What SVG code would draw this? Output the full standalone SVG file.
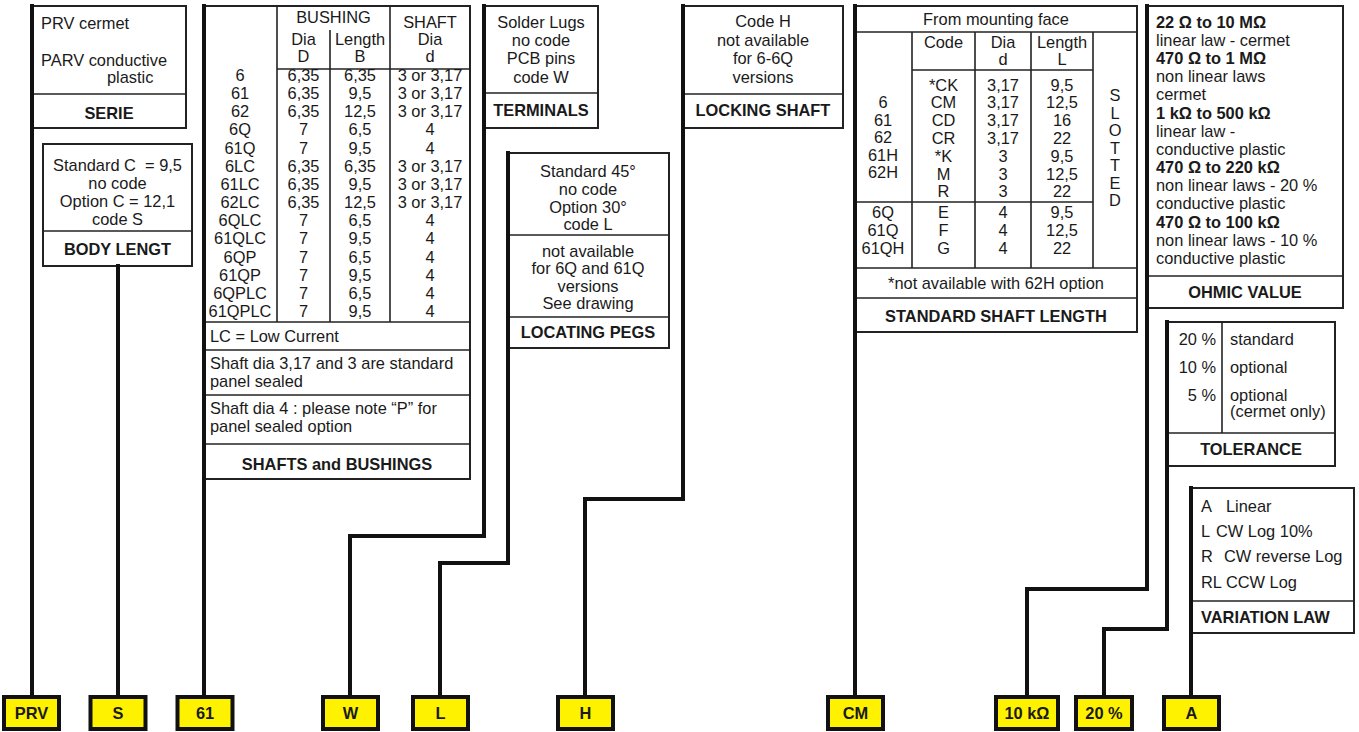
<svg xmlns="http://www.w3.org/2000/svg" width="1359" height="732" viewBox="0 0 1359 732">
<style>
text{font-family:"Liberation Sans",Arial,Helvetica,sans-serif;font-size:16.4px;fill:#1a1a1a}
.b{font-weight:bold}
.m{text-anchor:middle}
.e{text-anchor:end}
.box{fill:#fff;stroke:#222;stroke-width:2}
.ln{stroke:#222;stroke-width:1.6;fill:none}
.conn{fill:none;stroke:#111;stroke-width:4;stroke-linejoin:miter;stroke-linecap:square}
.tag{fill:#FFF200;stroke:#111;stroke-width:4}
</style>
<rect width="1359" height="732" fill="#fff"/>

<g id="serie">
<rect class="box" x="32" y="6" width="154" height="122"/>
<line class="ln" x1="32" y1="94" x2="186" y2="94"/>
<text x="41" y="29">PRV cermet</text>
<text x="41" y="66">PARV conductive</text>
<text x="107" y="83">plastic</text>
<text class="b m" x="109" y="119">SERIE</text>
</g>

<g id="body-length">
<rect class="box" x="43" y="144" width="149" height="122"/>
<line class="ln" x1="43" y1="231" x2="192" y2="231"/>
<text class="m" x="117.5" y="170.5" xml:space="preserve">Standard C  = 9,5</text>
<text class="m" x="117.5" y="188.5">no code</text>
<text class="m" x="117.5" y="206.5">Option C = 12,1</text>
<text class="m" x="117.5" y="224.5">code S</text>
<text class="b m" x="117.5" y="255">BODY LENGT</text>
</g>

<g id="shafts-bushings">
<rect class="box" x="204" y="6" width="266" height="473"/>
<line class="ln" x1="277" y1="6" x2="277" y2="322"/>
<line class="ln" x1="330" y1="30" x2="330" y2="322"/>
<line class="ln" x1="390" y1="6" x2="390" y2="322"/>
<line class="ln" x1="277" y1="69" x2="470" y2="69"/>
<line class="ln" x1="204" y1="322" x2="470" y2="322"/>
<line class="ln" x1="204" y1="350" x2="470" y2="350"/>
<line class="ln" x1="204" y1="395" x2="470" y2="395"/>
<line class="ln" x1="204" y1="444" x2="470" y2="444"/>
<text class="m" x="333.5" y="23">BUSHING</text>
<text class="m" x="430" y="28">SHAFT</text>
<text class="m" x="303.5" y="45">Dia</text>
<text class="m" x="360" y="45">Length</text>
<text class="m" x="430" y="45">Dia</text>
<text class="m" x="303.5" y="62">D</text>
<text class="m" x="360" y="62">B</text>
<text class="m" x="430" y="62">d</text>
<text class="m" x="240" y="81">6<tspan x="240" dy="18.15">61</tspan><tspan x="240" dy="18.15">62</tspan><tspan x="240" dy="18.15">6Q</tspan><tspan x="240" dy="18.15">61Q</tspan><tspan x="240" dy="18.15">6LC</tspan><tspan x="240" dy="18.15">61LC</tspan><tspan x="240" dy="18.15">62LC</tspan><tspan x="240" dy="18.15">6QLC</tspan><tspan x="240" dy="18.15">61QLC</tspan><tspan x="240" dy="18.15">6QP</tspan><tspan x="240" dy="18.15">61QP</tspan><tspan x="240" dy="18.15">6QPLC</tspan><tspan x="240" dy="18.15">61QPLC</tspan></text>
<text class="m" x="303.5" y="81">6,35<tspan x="303.5" dy="18.15">6,35</tspan><tspan x="303.5" dy="18.15">6,35</tspan><tspan x="303.5" dy="18.15">7</tspan><tspan x="303.5" dy="18.15">7</tspan><tspan x="303.5" dy="18.15">6,35</tspan><tspan x="303.5" dy="18.15">6,35</tspan><tspan x="303.5" dy="18.15">6,35</tspan><tspan x="303.5" dy="18.15">7</tspan><tspan x="303.5" dy="18.15">7</tspan><tspan x="303.5" dy="18.15">7</tspan><tspan x="303.5" dy="18.15">7</tspan><tspan x="303.5" dy="18.15">7</tspan><tspan x="303.5" dy="18.15">7</tspan></text>
<text class="m" x="360" y="81">6,35<tspan x="360" dy="18.15">9,5</tspan><tspan x="360" dy="18.15">12,5</tspan><tspan x="360" dy="18.15">6,5</tspan><tspan x="360" dy="18.15">9,5</tspan><tspan x="360" dy="18.15">6,35</tspan><tspan x="360" dy="18.15">9,5</tspan><tspan x="360" dy="18.15">12,5</tspan><tspan x="360" dy="18.15">6,5</tspan><tspan x="360" dy="18.15">9,5</tspan><tspan x="360" dy="18.15">6,5</tspan><tspan x="360" dy="18.15">9,5</tspan><tspan x="360" dy="18.15">6,5</tspan><tspan x="360" dy="18.15">9,5</tspan></text>
<text class="m" x="430" y="81">3 or 3,17<tspan x="430" dy="18.15">3 or 3,17</tspan><tspan x="430" dy="18.15">3 or 3,17</tspan><tspan x="430" dy="18.15">4</tspan><tspan x="430" dy="18.15">4</tspan><tspan x="430" dy="18.15">3 or 3,17</tspan><tspan x="430" dy="18.15">3 or 3,17</tspan><tspan x="430" dy="18.15">3 or 3,17</tspan><tspan x="430" dy="18.15">4</tspan><tspan x="430" dy="18.15">4</tspan><tspan x="430" dy="18.15">4</tspan><tspan x="430" dy="18.15">4</tspan><tspan x="430" dy="18.15">4</tspan><tspan x="430" dy="18.15">4</tspan></text>
<text x="210" y="342">LC = Low Current</text>
<text x="210" y="368.5">Shaft dia 3,17 and 3 are standard</text>
<text x="210" y="387">panel sealed</text>
<text x="210" y="413.5">Shaft dia 4 : please note “P” for</text>
<text x="210" y="432">panel sealed option</text>
<text class="b m" x="337" y="470">SHAFTS and BUSHINGS</text>
</g>

<g id="terminals">
<rect class="box" x="484" y="6" width="114" height="122"/>
<line class="ln" x1="484" y1="93" x2="598" y2="93"/>
<text class="m" x="541" y="28">Solder Lugs<tspan x="541" dy="18.2">no code</tspan><tspan x="541" dy="18.2">PCB pins</tspan><tspan x="541" dy="18.2">code W</tspan></text>
<text class="b m" x="541" y="116">TERMINALS</text>
</g>

<g id="locating-pegs">
<rect class="box" x="508" y="153" width="161" height="195"/>
<line class="ln" x1="508" y1="235" x2="669" y2="235"/>
<line class="ln" x1="508" y1="317" x2="669" y2="317"/>
<text class="m" x="588" y="177">Standard 45°<tspan x="588" dy="17.8">no code</tspan><tspan x="588" dy="17.8">Option 30°</tspan><tspan x="588" dy="17.8">code L</tspan></text>
<text class="m" x="588" y="257">not available<tspan x="588" dy="17.4">for 6Q and 61Q</tspan><tspan x="588" dy="17.4">versions</tspan><tspan x="588" dy="17.4">See drawing</tspan></text>
<text class="b m" x="588" y="338">LOCATING PEGS</text>
</g>

<g id="locking-shaft">
<rect class="box" x="683" y="6" width="160" height="122"/>
<line class="ln" x1="683" y1="94" x2="843" y2="94"/>
<text class="m" x="763" y="27">Code H<tspan x="763" dy="18.5">not available</tspan><tspan x="763" dy="18.5">for 6-6Q</tspan><tspan x="763" dy="18.5">versions</tspan></text>
<text class="b m" x="763" y="116">LOCKING SHAFT</text>
</g>

<g id="standard-shaft-length">
<rect class="box" x="855" y="6" width="282" height="326"/>
<line class="ln" x1="855" y1="32" x2="1137" y2="32"/>
<line class="ln" x1="912" y1="32" x2="912" y2="268"/>
<line class="ln" x1="975" y1="32" x2="975" y2="268"/>
<line class="ln" x1="1031" y1="32" x2="1031" y2="268"/>
<line class="ln" x1="1093" y1="32" x2="1093" y2="268"/>
<line class="ln" x1="912" y1="70" x2="1093" y2="70"/>
<line class="ln" x1="855" y1="202" x2="1093" y2="202"/>
<line class="ln" x1="855" y1="268" x2="1137" y2="268"/>
<line class="ln" x1="855" y1="298" x2="1137" y2="298"/>
<text class="m" x="996" y="25">From mounting face</text>
<text class="m" x="943.5" y="47.5">Code</text>
<text class="m" x="1003" y="47.5">Dia</text>
<text class="m" x="1003" y="65">d</text>
<text class="m" x="1062" y="47.5">Length</text>
<text class="m" x="1062" y="65">L</text>
<text class="m" x="883" y="108">6<tspan x="883" dy="17.5">61</tspan><tspan x="883" dy="17.5">62</tspan><tspan x="883" dy="17.5">61H</tspan><tspan x="883" dy="17.5">62H</tspan></text>
<text class="m" x="943.5" y="90.5">*CK<tspan x="943.5" dy="17.8">CM</tspan><tspan x="943.5" dy="17.8">CD</tspan><tspan x="943.5" dy="17.8">CR</tspan><tspan x="943.5" dy="17.8">*K</tspan><tspan x="943.5" dy="17.8">M</tspan><tspan x="943.5" dy="17.8">R</tspan></text>
<text class="m" x="1003" y="90.5">3,17<tspan x="1003" dy="17.8">3,17</tspan><tspan x="1003" dy="17.8">3,17</tspan><tspan x="1003" dy="17.8">3,17</tspan><tspan x="1003" dy="17.8">3</tspan><tspan x="1003" dy="17.8">3</tspan><tspan x="1003" dy="17.8">3</tspan></text>
<text class="m" x="1062" y="90.5">9,5<tspan x="1062" dy="17.8">12,5</tspan><tspan x="1062" dy="17.8">16</tspan><tspan x="1062" dy="17.8">22</tspan><tspan x="1062" dy="17.8">9,5</tspan><tspan x="1062" dy="17.8">12,5</tspan><tspan x="1062" dy="17.8">22</tspan></text>
<text class="m" x="883" y="217.5">6Q<tspan x="883" dy="18">61Q</tspan><tspan x="883" dy="18">61QH</tspan></text>
<text class="m" x="943.5" y="217.5">E<tspan x="943.5" dy="18">F</tspan><tspan x="943.5" dy="18">G</tspan></text>
<text class="m" x="1003" y="217.5">4<tspan x="1003" dy="18">4</tspan><tspan x="1003" dy="18">4</tspan></text>
<text class="m" x="1062" y="217.5">9,5<tspan x="1062" dy="18">12,5</tspan><tspan x="1062" dy="18">22</tspan></text>
<text class="m" x="1115" y="101">S<tspan x="1115" dy="17.5">L</tspan><tspan x="1115" dy="17.5">O</tspan><tspan x="1115" dy="17.5">T</tspan><tspan x="1115" dy="17.5">T</tspan><tspan x="1115" dy="17.5">E</tspan><tspan x="1115" dy="17.5">D</tspan></text>
<text class="m" x="996" y="288.5">*not available with 62H option</text>
<text class="b m" x="996" y="321.5">STANDARD SHAFT LENGTH</text>
</g>

<g id="ohmic-value">
<rect class="box" x="1147" y="6" width="196" height="302"/>
<line class="ln" x1="1147" y1="276" x2="1343" y2="276"/>
<text x="1156" y="27.5"><tspan class="b">22 Ω to 10 MΩ</tspan><tspan x="1156" dy="18.2">linear law - cermet</tspan><tspan x="1156" dy="18.2" class="b">470 Ω to 1 MΩ</tspan><tspan x="1156" dy="18.2">non linear laws</tspan><tspan x="1156" dy="18.2">cermet</tspan><tspan x="1156" dy="18.2" class="b">1 kΩ to 500 kΩ</tspan><tspan x="1156" dy="18.2">linear law -</tspan><tspan x="1156" dy="18.2">conductive plastic</tspan><tspan x="1156" dy="18.2" class="b">470 Ω to 220 kΩ</tspan><tspan x="1156" dy="18.2">non linear laws - 20 %</tspan><tspan x="1156" dy="18.2">conductive plastic</tspan><tspan x="1156" dy="18.2" class="b">470 Ω to 100 kΩ</tspan><tspan x="1156" dy="18.2">non linear laws - 10 %</tspan><tspan x="1156" dy="18.2">conductive plastic</tspan></text>
<text class="b m" x="1245" y="298">OHMIC VALUE</text>
</g>

<g id="tolerance">
<rect class="box" x="1167" y="322" width="168" height="144"/>
<line class="ln" x1="1222" y1="322" x2="1222" y2="433"/>
<line class="ln" x1="1167" y1="433" x2="1335" y2="433"/>
<text class="e" x="1216" y="345">20 %</text>
<text class="e" x="1216" y="373">10 %</text>
<text class="e" x="1216" y="401">5 %</text>
<text x="1230" y="345">standard</text>
<text x="1230" y="373">optional</text>
<text x="1230" y="400.5">optional</text>
<text x="1230" y="417">(cermet only)</text>
<text class="b m" x="1251" y="455">TOLERANCE</text>
</g>

<g id="variation-law">
<rect class="box" x="1191" y="488" width="163" height="145"/>
<line class="ln" x1="1191" y1="601" x2="1354" y2="601"/>
<text x="1201" y="512">A</text><text x="1226" y="512">Linear</text>
<text x="1201" y="537">L</text><text x="1216" y="537">CW Log 10%</text>
<text x="1201" y="562">R</text><text x="1224" y="562">CW reverse Log</text>
<text x="1201" y="587.5">RL CCW Log</text>
<text class="b" x="1201" y="623">VARIATION LAW</text>
</g>

<g id="code-tags">
<g id="tag-prv"><rect class="tag" x="4" y="697" width="55" height="32"/><text class="b m" x="31.5" y="719">PRV</text></g>
<g id="tag-s"><rect class="tag" x="90.5" y="697" width="55" height="32"/><text class="b m" x="118" y="719">S</text></g>
<g id="tag-61"><rect class="tag" x="177.5" y="697" width="55" height="32"/><text class="b m" x="205" y="719">61</text></g>
<g id="tag-w"><rect class="tag" x="323" y="697" width="55" height="32"/><text class="b m" x="350.5" y="719">W</text></g>
<g id="tag-l"><rect class="tag" x="413" y="697" width="55" height="32"/><text class="b m" x="440.5" y="719">L</text></g>
<g id="tag-h"><rect class="tag" x="558" y="697" width="55" height="32"/><text class="b m" x="585.5" y="719">H</text></g>
<g id="tag-cm"><rect class="tag" x="828" y="697" width="55" height="32"/><text class="b m" x="855.5" y="719">CM</text></g>
<g id="tag-10k"><rect class="tag" x="996" y="697" width="62" height="32"/><text class="b m" x="1027" y="719">10 kΩ</text></g>
<g id="tag-20"><rect class="tag" x="1076" y="697" width="56" height="32"/><text class="b m" x="1104" y="719">20 %</text></g>
<g id="tag-a"><rect class="tag" x="1164" y="697" width="55" height="32"/><text class="b m" x="1191.5" y="719">A</text></g>
</g>

<g id="connectors">
<polyline class="conn" points="32,6 32,695"/>
<polyline class="conn" points="118,266 118,695"/>
<polyline class="conn" points="204,6 204,695"/>
<polyline class="conn" points="484,6 484,536 350,536 350,695"/>
<polyline class="conn" points="508,153 508,563 440,563 440,695"/>
<polyline class="conn" points="683,6 683,499 585,499 585,695"/>
<polyline class="conn" points="855,6 855,695"/>
<polyline class="conn" points="1147,6 1147,589 1027,589 1027,695"/>
<polyline class="conn" points="1167,322 1167,629 1104,629 1104,695"/>
<polyline class="conn" points="1191,488 1191,695"/>
</g>
</svg>
